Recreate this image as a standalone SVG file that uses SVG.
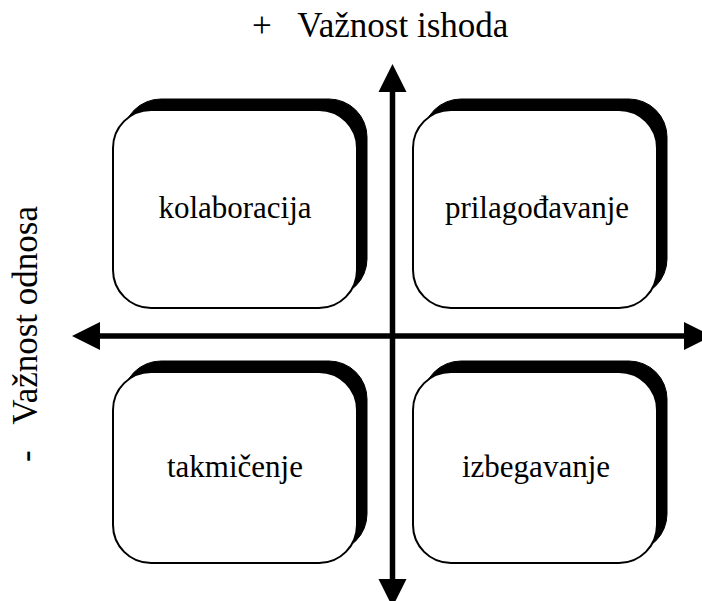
<svg xmlns="http://www.w3.org/2000/svg" width="702" height="601" viewBox="0 0 702 601">
<style>
.shadow{fill:#000;stroke:#000;stroke-width:1}
.box{fill:#fff;stroke:#000;stroke-width:2}
.lbl{font-family:'Liberation Serif','Times New Roman',Times,serif;font-size:31px;fill:#000}
.ax{font-family:'Liberation Serif','Times New Roman',Times,serif;font-size:35px;fill:#000;white-space:pre}
.axis{stroke:#000;stroke-width:5.5;fill:none}
</style>
<defs>
<marker id="head" markerUnits="userSpaceOnUse" markerWidth="28" markerHeight="28" viewBox="0 -14 28 28" refX="0" refY="0" orient="auto-start-reverse" overflow="visible">
<path d="M0,-14 L28,0 L0,14 Z" fill="#000"/>
</marker>
</defs>
<rect width="702" height="601" fill="#fff"/>
<g id="connectors">
<line class="axis" x1="392.5" y1="92" x2="392.5" y2="579" marker-start="url(#head)" marker-end="url(#head)"/>
<line class="axis" x1="100" y1="336" x2="684" y2="336" marker-start="url(#head)" marker-end="url(#head)"/>
</g>
<g id="kolaboracija">
<rect class="shadow" x="123" y="99" width="244" height="198" rx="38"/>
<rect class="box" x="113" y="110" width="244" height="198" rx="38"/>
<text class="lbl" x="235" y="218" text-anchor="middle">kolaboracija</text>
</g>
<g id="prilagodjavanje">
<rect class="shadow" x="423" y="99" width="244" height="198" rx="38"/>
<rect class="box" x="413" y="110" width="244" height="198" rx="38"/>
<text class="lbl" x="537" y="218" text-anchor="middle">prilagođavanje</text>
</g>
<g id="takmicenje">
<rect class="shadow" x="123" y="361" width="244" height="191" rx="38"/>
<rect class="box" x="113" y="372" width="244" height="191" rx="38"/>
<text class="lbl" x="235" y="477" text-anchor="middle">takmičenje</text>
</g>
<g id="izbegavanje">
<rect class="shadow" x="423" y="361" width="244" height="191" rx="38"/>
<rect class="box" x="413" y="372" width="244" height="191" rx="38"/>
<text class="lbl" x="536" y="477" text-anchor="middle">izbegavanje</text>
</g>
<g id="axis-labels">
<text class="ax" x="252" y="36.5" xml:space="preserve">+   Važnost ishoda</text>
<text class="ax" transform="translate(37,462) rotate(-90)" x="0" y="0" xml:space="preserve">-   Važnost odnosa</text>
</g>
</svg>
